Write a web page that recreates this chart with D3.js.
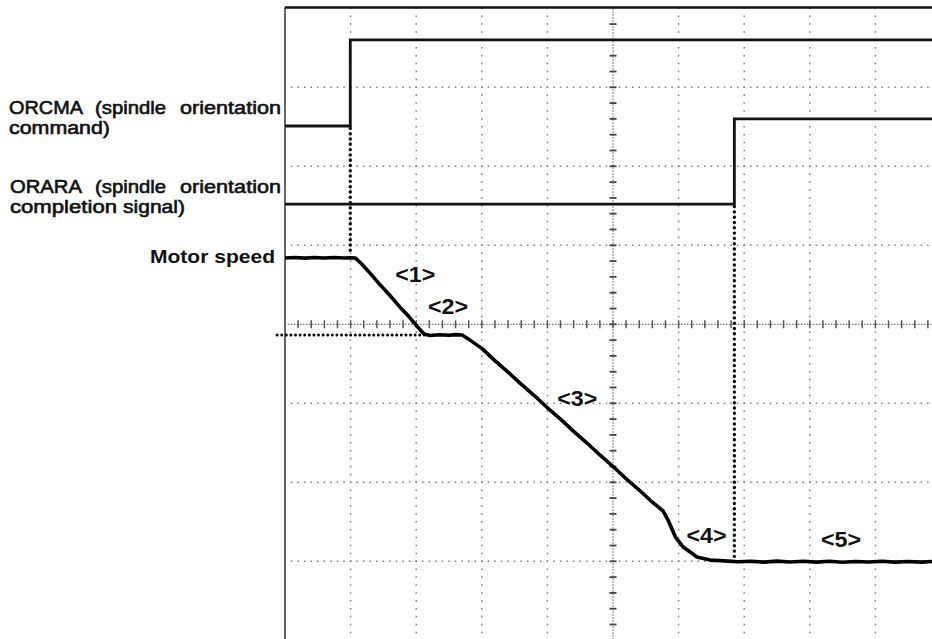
<!DOCTYPE html>
<html><head><meta charset="utf-8">
<script src="https://cdn.jsdelivr.net/npm/d3@7"></script>
<style>html,body{margin:0;padding:0;background:#fff;}svg{display:block;}</style>
</head><body>
<svg id="chart" width="932" height="639"></svg>
<script>
// ---- data (units: time in divisions, level in divisions) ----
const xDivisions = [0,1,2,3,4,5,6,7,8,9,10];
const yDivisions = [-4,-3,-2,-1,0,1,2,3,4];
// ORCMA: spindle orientation command
const orcmaTime  = [0, 0.995, 0.995, 10];
const orcmaLevel = [2.51, 2.51, 3.60, 3.60];
// ORARA: spindle orientation completion signal
const oraraTime  = [0, 6.85, 6.85, 10];
const oraraLevel = [1.52, 1.52, 2.60, 2.60];
// Motor speed trace
const speedTime  = [0, 0.15, 0.3, 0.45, 0.6, 0.75, 0.9, 1.0, 1.07, 1.17, 1.3, 1.45, 1.6, 1.75, 1.87, 1.98, 2.12, 2.21, 2.35, 2.5, 2.6, 2.70, 2.82, 3.0, 3.2, 3.4, 3.6, 3.8, 4.0, 4.2, 4.4, 4.6, 4.8, 5.0, 5.2, 5.4, 5.6, 5.76, 5.84, 5.95, 6.07, 6.28, 6.48, 6.7, 6.9, 7.1, 7.3, 7.5, 7.7, 7.9, 8.1, 8.3, 8.5, 8.7, 8.9, 9.1, 9.3, 9.5, 9.7, 9.9, 10];
const speedLevel = [0.84, 0.845, 0.838, 0.846, 0.839, 0.845, 0.84, 0.842, 0.84, 0.763, 0.645, 0.50, 0.365, 0.22, 0.115, 0.005, -0.123, -0.142, -0.132, -0.138, -0.131, -0.135, -0.2, -0.305, -0.46, -0.605, -0.758, -0.902, -1.057, -1.2, -1.356, -1.5, -1.654, -1.8, -1.955, -2.098, -2.252, -2.36, -2.48, -2.69, -2.82, -2.945, -2.985, -2.995, -3.005, -3.0, -3.01, -2.998, -3.008, -3.0, -3.01, -3.0, -3.012, -3.002, -3.008, -3.0, -3.01, -3.003, -3.01, -3.0, -3.008];
// Marker (bold dotted) lines
const markerV = [{t:0.995, from:2.48, to:0.87}, {t:6.85, from:1.49, to:-2.96}];
const markerH = [{v:-0.135, from:-0.12, to:2.15}];
// Labels
const signalLabels = [
  {words:["ORCMA","(spindle","orientation"], x:[9,95,180], w:[74,71,101], y:114},
  {words:["command)"], x:[9], w:[101], y:134},
  {words:["ORARA","(spindle","orientation"], x:[10,95,180], w:[72,71,101], y:193},
  {words:["completion","signal)"], x:[10,123], w:[107,62], y:213}
];
const phaseLabels = [
  {text:"<1>", t:1.68, v:0.53},
  {text:"<2>", t:2.18, v:0.13},
  {text:"<3>", t:4.15, v:-1.03},
  {text:"<4>", t:6.12, v:-2.77},
  {text:"<5>", t:8.17, v:-2.82}
];

// ---- scales ----
const svg = d3.select("#chart");
const x = d3.scaleLinear().domain([0,10]).range([285, 941]);
const y = d3.scaleLinear().domain([-4,4]).range([640.3, 8.3]);
const divW = x(1)-x(0), divH = y(0)-y(1);

// ---- graticule ----
const g = svg.append("g");
g.selectAll(".vg").data(xDivisions.filter(d=>d>0 && d<10 && d!==5)).enter()
  .append("line").attr("x1",d=>x(d)).attr("x2",d=>x(d)).attr("y1",y(4)).attr("y2",y(-4))
  .attr("stroke","#7d7d7d").attr("stroke-width",1.5)
  .attr("stroke-dasharray",`1.5,${divH/10-1.5}`).attr("stroke-dashoffset",-(divH/10-0.75));
g.selectAll(".hg").data(yDivisions.filter(d=>d>-4 && d<4 && d!==0)).enter()
  .append("line").attr("x1",x(0)).attr("x2",x(10)).attr("y1",d=>y(d)).attr("y2",d=>y(d))
  .attr("stroke","#7d7d7d").attr("stroke-width",1.5)
  .attr("stroke-dasharray",`1.5,${divW/10-1.5}`).attr("stroke-dashoffset",-(divW/10-0.75));
// center axes (fine dotted + ticks)
g.append("line").attr("x1",x(0)).attr("x2",x(10)).attr("y1",y(0)).attr("y2",y(0))
  .attr("stroke","#555").attr("stroke-width",1).attr("stroke-dasharray","1.5,1.5");
g.append("line").attr("x1",x(5)).attr("x2",x(5)).attr("y1",y(4)).attr("y2",y(-4))
  .attr("stroke","#555").attr("stroke-width",1).attr("stroke-dasharray","1.5,1.5");
const hTicks = d3.range(1,50).map(i=>i/5);
g.selectAll(".ht").data(hTicks).enter().append("line")
  .attr("x1",d=>x(d)).attr("x2",d=>x(d)).attr("y1",y(0)-4).attr("y2",y(0)+4)
  .attr("stroke","#555").attr("stroke-width",1.5);
const vTicks = d3.range(-19,20).map(i=>i/5);
g.selectAll(".vt").data(vTicks).enter().append("line")
  .attr("x1",x(5)-3.5).attr("x2",x(5)+3.5).attr("y1",d=>y(d)).attr("y2",d=>y(d))
  .attr("stroke","#444").attr("stroke-width",1.8);
// left border and top border
g.append("line").attr("x1",x(0)).attr("x2",x(0)).attr("y1",y(4)-1).attr("y2",639)
  .attr("stroke","#666").attr("stroke-width",2);
g.append("line").attr("x1",x(0)).attr("x2",932).attr("y1",y(4)-0.8).attr("y2",y(4)-0.8)
  .attr("stroke","#111").attr("stroke-width",2.4);

// ---- marker dotted lines ----
svg.selectAll(".mv").data(markerV).enter().append("line")
  .attr("x1",d=>x(d.t)).attr("x2",d=>x(d.t)).attr("y1",d=>y(d.from)).attr("y2",d=>y(d.to))
  .attr("stroke","#000").attr("stroke-width",3.4).attr("stroke-linecap","round")
  .attr("stroke-dasharray","0,5.3");
svg.selectAll(".mh").data(markerH).enter().append("line")
  .attr("x1",d=>x(d.from)).attr("x2",d=>x(d.to)).attr("y1",d=>y(d.v)).attr("y2",d=>y(d.v))
  .attr("stroke","#000").attr("stroke-width",3).attr("stroke-linecap","round")
  .attr("stroke-dasharray","0,4.6");

// ---- signals ----
const line = d3.line().x(d=>x(d[0])).y(d=>y(d[1]));
svg.append("path").datum(d3.zip(orcmaTime, orcmaLevel)).attr("d",line)
  .attr("fill","none").attr("stroke","#111").attr("stroke-width",2.8);
svg.append("path").datum(d3.zip(oraraTime, oraraLevel)).attr("d",line)
  .attr("fill","none").attr("stroke","#111").attr("stroke-width",2.8);
svg.append("path").datum(d3.zip(speedTime, speedLevel)).attr("d",line)
  .attr("fill","none").attr("stroke","#000").attr("stroke-width",3.6).attr("stroke-linejoin","round");

// ---- labels ----
const font = "'Liberation Sans', Arial, sans-serif";
signalLabels.forEach(l=>{
  l.words.forEach((w,i)=>{
    svg.append("text").attr("x",l.x[i]).attr("y",l.y).text(w)
      .attr("font-family",font).attr("font-size",18).attr("fill","#111")
      .attr("stroke","#111").attr("stroke-width",0.6)
      .attr("textLength",l.w[i]).attr("lengthAdjust","spacingAndGlyphs");
  });
});
svg.append("text").attr("x",150).attr("y",263).text("Motor speed")
  .attr("font-family",font).attr("font-size",19).attr("font-weight","bold").attr("fill","#111")
  .attr("textLength",125).attr("lengthAdjust","spacingAndGlyphs");
svg.selectAll(".pl").data(phaseLabels).enter().append("text")
  .attr("x",d=>x(d.t)).attr("y",d=>y(d.v)).text(d=>d.text)
  .attr("font-family",font).attr("font-size",22).attr("font-weight","bold").attr("fill","#111")
  .attr("textLength",40).attr("lengthAdjust","spacingAndGlyphs");
</script>
</body></html>
